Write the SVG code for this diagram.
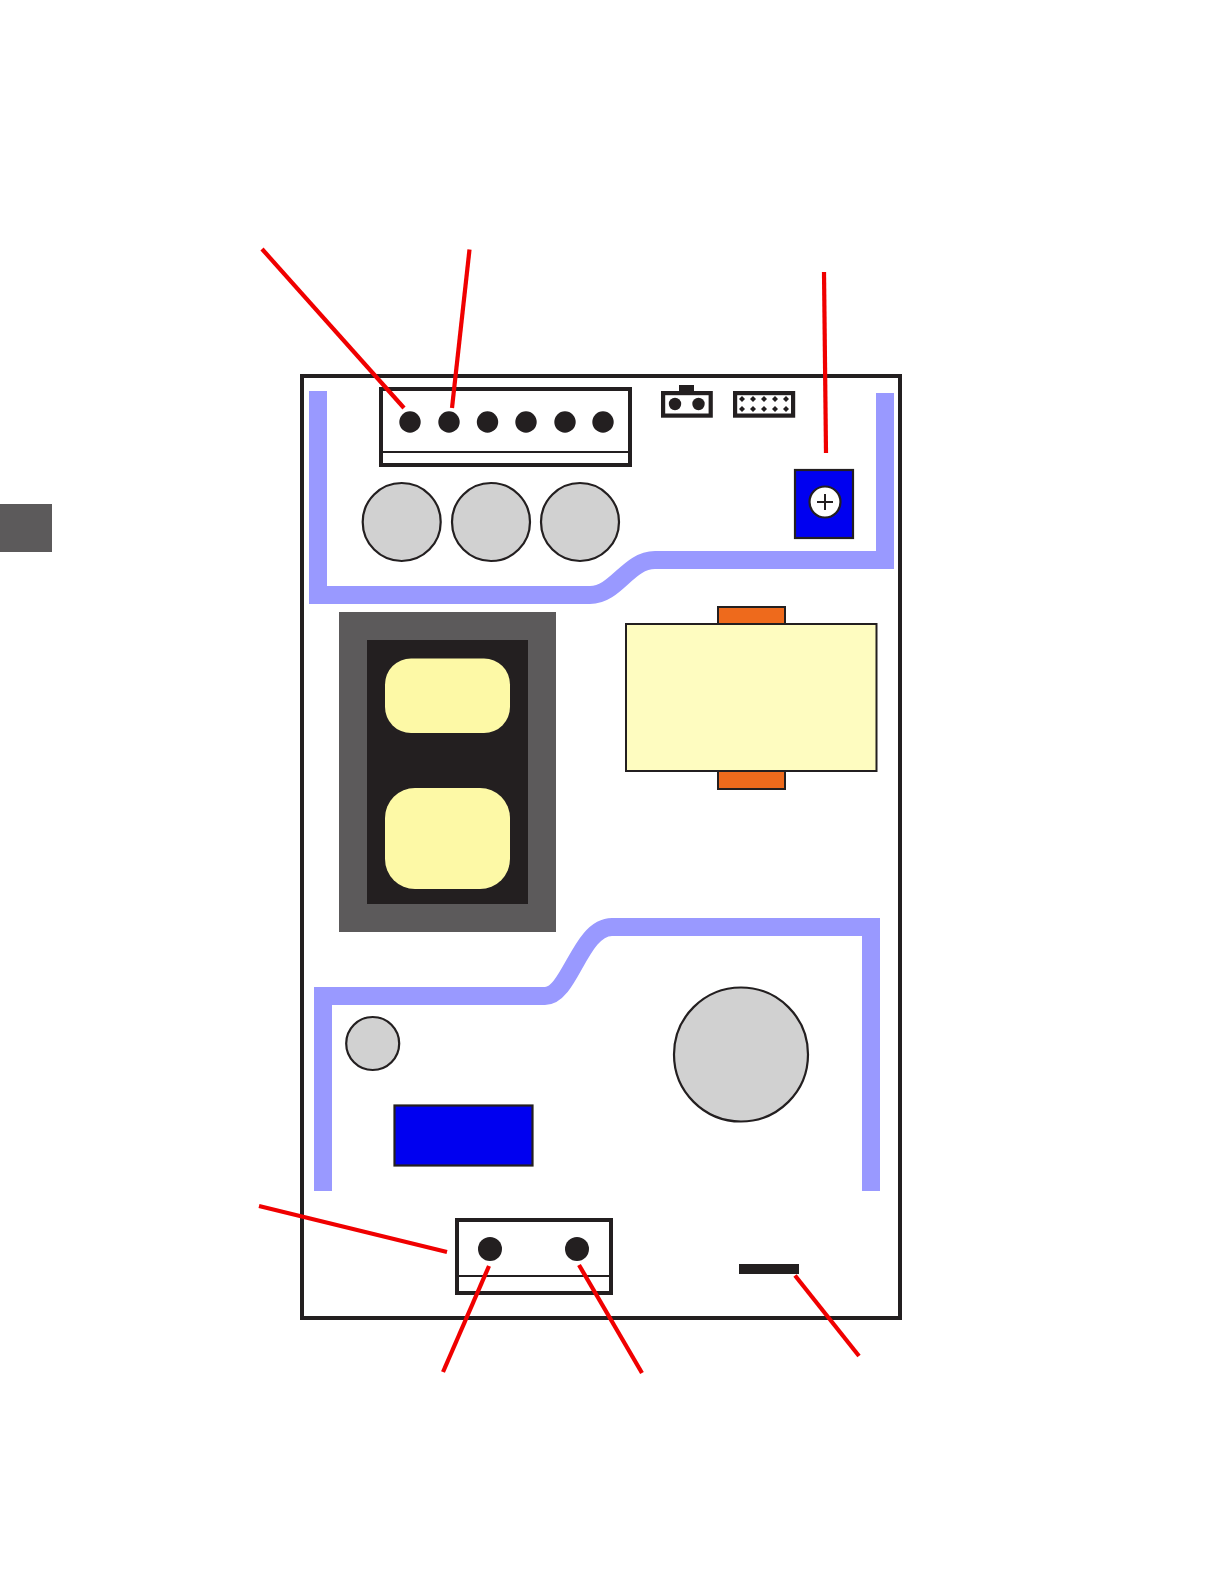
<svg xmlns="http://www.w3.org/2000/svg" width="1224" height="1584" viewBox="0 0 1224 1584">
<style>
.k{fill:#231f20}
.o{fill:none;stroke:#231f20;stroke-width:4}
.b{fill:#fff;stroke:#231f20;stroke-width:4}
.j{fill:none;stroke:#231f20;stroke-width:4.200}
.cap{fill:#d1d1d1;stroke:#231f20;stroke-width:2.200}
.trace{fill:none;stroke:#9999ff;stroke-width:18}
.red{fill:none;stroke:#f00000;stroke-width:4.200}
.thin{fill:none;stroke:#231f20;stroke-width:2}
.blue{fill:#0000f0;stroke:#231f20;stroke-width:2.200}
.y{fill:#fdf9a6}
.or{fill:#ee6a1c;stroke:#231f20;stroke-width:2}
</style>
<defs>
<path id="d" class="k" d="M0-3L3 0L0 3L-3 0Z"/>
</defs>
<rect width="1224" height="1584" fill="#fff"/>
<g id="side-tab"><rect x="0" y="504" width="52" height="48" fill="#5c5a5b"/></g>
<g id="board"><rect class="b" x="302" y="376" width="598" height="942"/></g>
<g id="trace-top"><path class="trace" d="M318 391V595H590C616 595 628 560 655 560H885V393"/></g>
<g id="trace-bottom"><path class="trace" d="M323 1191V996H545C570 996 580 927 612 927H871V1191"/></g>
<g id="connector-6">
<rect class="o" x="381" y="389" width="249" height="76"/>
<path class="thin" d="M381 452H630"/>
<circle class="k" cx="410" cy="422" r="10.700"/><circle class="k" cx="449" cy="422" r="10.700"/><circle class="k" cx="487.500" cy="422" r="10.700"/><circle class="k" cx="526" cy="422" r="10.700"/><circle class="k" cx="565" cy="422" r="10.700"/><circle class="k" cx="603" cy="422" r="10.700"/>
</g>
<g id="caps"><circle class="cap" cx="401.700" cy="522" r="39"/><circle class="cap" cx="491" cy="522" r="39"/><circle class="cap" cx="580" cy="522" r="39"/></g>
<g id="jumper">
<rect class="k" x="679" y="385" width="15" height="7"/>
<rect class="j" x="663.100" y="393.100" width="47.600" height="22.500"/>
<circle class="k" cx="675" cy="404" r="6.200"/><circle class="k" cx="698.500" cy="404" r="6.200"/>
</g>
<g id="header">
<rect class="j" x="735.100" y="393.100" width="58" height="22.500"/>
<use href="#d" x="742" y="399"/><use href="#d" x="753" y="399"/><use href="#d" x="764" y="399"/><use href="#d" x="775" y="399"/><use href="#d" x="786" y="399"/>
<use href="#d" x="742" y="409"/><use href="#d" x="753" y="409"/><use href="#d" x="764" y="409"/><use href="#d" x="775" y="409"/><use href="#d" x="786" y="409"/>
</g>
<g id="trimmer">
<rect class="blue" x="795" y="470" width="58" height="68"/>
<circle cx="825" cy="502" r="15.500" fill="#fff" stroke="#231f20" stroke-width="2.200"/>
<path class="thin" d="M817 502H833M825 494V510"/>
</g>
<g id="transformer-core">
<rect x="339" y="612" width="217" height="320" fill="#5c5a5b"/>
<rect x="367" y="640" width="161" height="264" class="k"/>
<rect class="y" x="385" y="658.500" width="125" height="74.500" rx="26"/>
<rect class="y" x="385" y="788" width="125" height="101" rx="30"/>
</g>
<g id="relay">
<rect class="or" x="718" y="607" width="67" height="182"/>
<rect x="626" y="624" width="250.500" height="147" fill="#fefcc0" stroke="#231f20" stroke-width="2"/>
</g>
<g id="electrolytic"><circle class="cap" cx="741" cy="1054.500" r="67"/></g>
<g id="small-cap"><circle class="cap" cx="372.700" cy="1043.500" r="26.500"/></g>
<g id="blue-block"><rect class="blue" x="394.500" y="1105.500" width="138" height="60"/></g>
<g id="terminal">
<rect class="o" x="457" y="1220" width="154" height="73"/>
<path class="thin" d="M457 1276H611"/>
<circle class="k" cx="490" cy="1249" r="12"/><circle class="k" cx="577" cy="1249" r="12"/>
</g>
<g id="bar"><rect class="k" x="739" y="1264" width="60" height="10"/></g>
<g id="connectors">
<path class="red" d="M262 249L404 408"/>
<path class="red" d="M469.500 249.500L452 408"/>
<path class="red" d="M824 272L826 453"/>
<path class="red" d="M259 1206L447 1252"/>
<path class="red" d="M443 1372L489 1266"/>
<path class="red" d="M642 1373L579 1265"/>
<path class="red" d="M859 1356L795 1275.500"/>
</g>
</svg>
